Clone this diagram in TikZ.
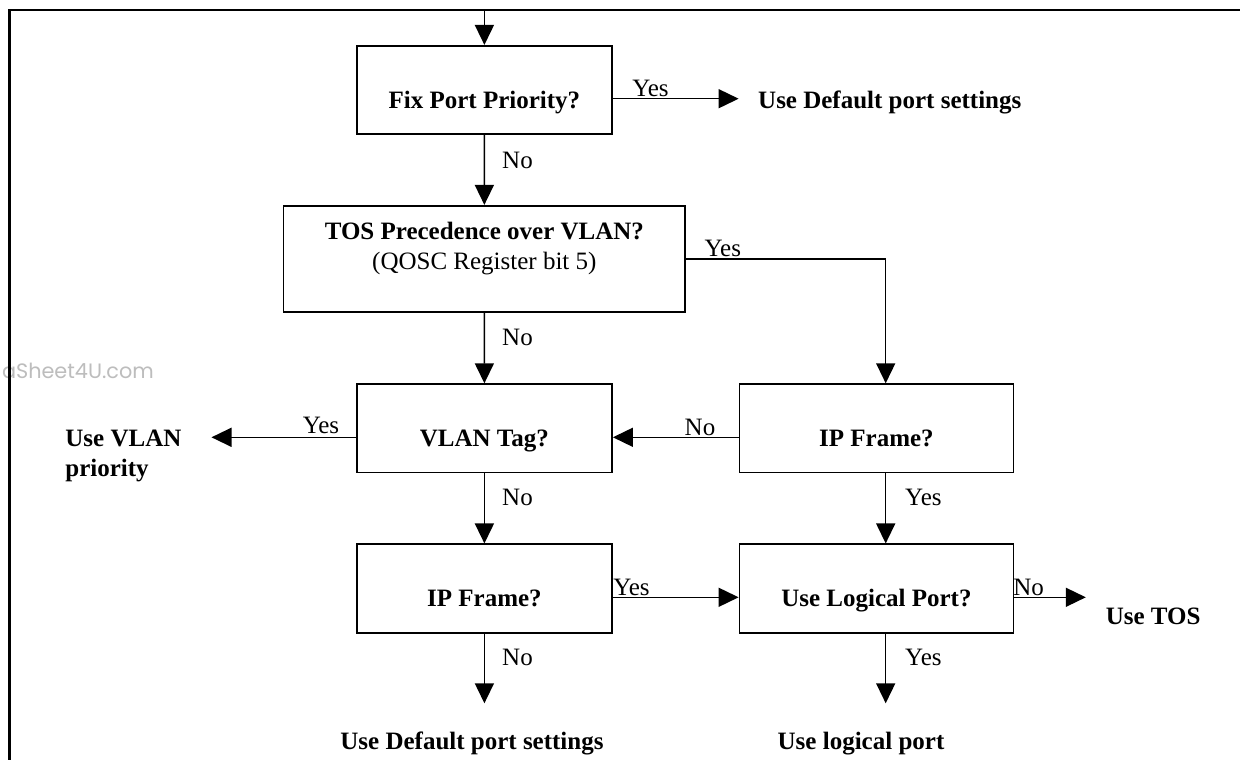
\documentclass[tikz,border=0pt]{standalone}
\usepackage{fontspec}
\setmainfont{Liberation Serif}
\newfontfamily\wmfont{Poppins}
\usetikzlibrary{arrows.meta}
\begin{document}
\begin{tikzpicture}[x=1pt,y=1pt,
  fr/.style={line width=2.2pt},
  arr/.style={line width=1.5pt, -{Triangle[length=20pt,width=19pt]}},
  bx/.style={draw, line width=1.6pt, inner sep=0pt, minimum height=88.5pt},
  bt/.style={font=\fontsize{25}{30}\selectfont\bfseries, inner sep=0pt, align=center},
  lab/.style={font=\fontsize{25}{30}\selectfont, inner sep=0pt, anchor=base},
  res/.style={font=\fontsize{25}{30}\selectfont\bfseries, inner sep=0pt, align=left}]
\useasboundingbox (0,0) rectangle (1240,-760);
\fill[white] (0,0) rectangle (1240,-760);
% watermark
\node[font=\wmfont\fontsize{20.8}{24}\selectfont, text=black!26, anchor=east, inner sep=0pt] (wm) at (154,-370.7) {aSheet4U.com};
% frame
\draw[fr] (1250,-10) -- (9.5,-10) -- (9.5,-770);
% boxes
\node[bx, minimum width=255.4pt] (b1) at (484.4,-90) {};
\node[bt, anchor=base] (t1) at (484.4,-108.3) {Fix Port Priority?};
\node[bx, minimum width=401.7pt, minimum height=106.3pt] (b2) at (484.35,-258.85) {};
\node[bt] (t2) at (484.35,-249) {TOS Precedence over VLAN?\\{\mdseries (QOSC Register bit 5)}};
\node[bx, minimum width=255.4pt] (b3) at (484.4,-428.35) {};
\node[bt, anchor=base] (t3) at (484.4,-446.6) {VLAN Tag?};
\node[bx, minimum width=274pt] (b4) at (876.4,-428.35) {};
\node[bt, anchor=base] (t4) at (876.4,-446.6) {IP Frame?};
\node[bx, minimum width=255.4pt] (b5) at (484.4,-588.5) {};
\node[bt, anchor=base] (t5) at (484.4,-606.6) {IP Frame?};
\node[bx, minimum width=274pt] (b6) at (876.4,-588.5) {};
\node[bt, anchor=base] (t6) at (876.4,-606.6) {Use Logical Port?};
% results
\node[res, anchor=base west] (o1) at (758,-108.3) {Use Default port settings};
\node[res, anchor=north west] (o2) at (65.2,-429.7) {Use VLAN\\priority};
\node[res, anchor=base west] (o3) at (1105.6,-624) {Use TOS};
\node[res, anchor=base] (o4) at (861,-749.3) {Use logical port};
\node[res, anchor=base] (o5) at (472,-749.3) {Use Default port settings};
% coordinates
\coordinate (top) at (484.4,-10);
\coordinate (e1) at (738.6,-98.7);
\coordinate (c2) at (885.7,-259);
\coordinate (y34) at (0,-437.3);
\coordinate (e2) at (211.5,-437.3);
\coordinate (y56) at (0,-597.3);
\coordinate (e3) at (1085.8,-597.3);
\coordinate (e4) at (885.7,-703.3);
\coordinate (e5) at (484.4,-703.3);
% connectors
\draw[arr] (top) -- (b1.north);
\draw[arr] (b1.east |- e1) -- (e1);
\draw[arr] (b1.south) -- (b2.north);
\draw[arr] (b2.east |- c2) -- (c2) -- (c2 |- b4.north);
\draw[arr] (b2.south) -- (b3.north);
\draw[arr] (b4.west |- y34) -- (b3.east |- y34);
\draw[arr] (b3.west |- e2) -- (e2);
\draw[arr] (b3.south) -- (b5.north);
\draw[arr] (c2 |- b4.south) -- (c2 |- b6.north);
\draw[arr] (b5.east |- y56) -- (b6.west |- y56);
\draw[arr] (b6.east |- e3) -- (e3);
\draw[arr] (b6.south -| e4) -- (e4);
\draw[arr] (b5.south) -- (e5);
% labels
\node[lab] (l1) at (650.5,-96.3) {Yes};
\node[lab] (l2) at (517.5,-168.3) {No};
\node[lab] (l3) at (722.8,-256.3) {Yes};
\node[lab] (l4) at (517.5,-345.3) {No};
\node[lab] (l5) at (700,-435) {No};
\node[lab] (l6) at (321,-433.3) {Yes};
\node[lab] (l7) at (517.5,-505) {No};
\node[lab] (l8) at (923.4,-505) {Yes};
\node[lab] (l9) at (631.5,-595) {Yes};
\node[lab] (l10) at (1028.6,-595) {No};
\node[lab] (l11) at (517.5,-665) {No};
\node[lab] (l12) at (923.4,-665) {Yes};
\end{tikzpicture}
\end{document}
